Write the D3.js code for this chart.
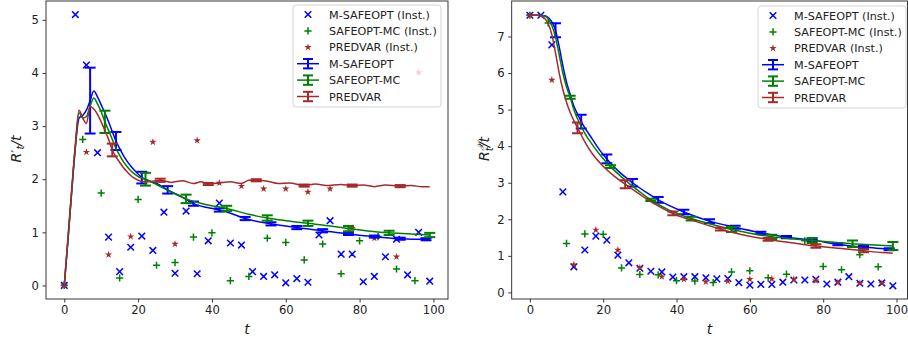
<!DOCTYPE html>
<html>
<head>
<meta charset="utf-8">
<script src="https://cdn.jsdelivr.net/npm/d3@7"></script>
<style>
body { margin: 0; background: #fff; }
svg text { font-family: "DejaVu Sans", sans-serif; fill: #222; }
</style>
</head>
<body>
<svg id="chart" width="908" height="343"></svg>
<script>
// time steps of the instantaneous samples
const tStep3 = [0,3,6,9,12,15,18,21,24,27,30,33,36,39,42,45,48,51,54,57,60,63,66,69,72,75,78,81,84,87,90,93,96,99];
const tStep5 = [0,5,10,15,20,25,30,35,40,45,50,55,60,65,70,75,80,85,90,95];
const tStep6 = [0,6,12,18,24,30,36,42,48,54,60,66,72,78,84,90,96];

// left panel: R'_t / t
const leftInstM = [0,5.1,4.15,2.5,0.91,0.26,0.72,0.93,0.66,1.38,0.23,1.40,0.22,0.84,1.55,0.80,0.76,0.26,0.17,0.20,0.05,0.13,0.06,0.95,1.22,0.59,0.59,0.07,0.17,0.54,0.87,0.20,1.0,0.08];
const leftInstS = [0,2.75,1.74,0.14,1.62,0.38,0.43,0.91,0.99,0.09,0.17,0.89,0.81,0.48,0.78,0.22,0.84,0.92,0.31,0.09];
const leftInstP = [0,2.51,0.58,0.92,2.70,0.78,2.73,1.93,1.87,1.82,1.82,1.76,1.82,1.08,0.89,0.54,4.01];

const leftMeanM_T = [0,1,2,3,4,5,6,7,8,9,10,11,12,13,14,15,16,17,18,19,20,21,25,28,31,35,42,45,49,56,63,70,77,84,91,98,99];
const leftMeanM   = [0,0.85,1.75,2.6,3.15,3.2,3.3,3.48,3.66,3.55,3.4,3.25,3.08,2.9,2.72,2.58,2.45,2.34,2.25,2.17,2.1,2.03,1.92,1.8,1.7,1.54,1.42,1.36,1.26,1.16,1.09,1.03,0.97,0.92,0.88,0.87,0.87];
const leftErrM_T = [7,14,21,28,35,42,49,56,63,70,77,84,91,98];
const leftErrM   = [3.48,2.72,2.03,1.8,1.54,1.42,1.26,1.16,1.09,1.03,0.97,0.92,0.88,0.87];
const leftErrM_H = [0.62,0.17,0.11,0.07,0.04,0.03,0.03,0.03,0.03,0.03,0.02,0.02,0.02,0.02];

const leftMeanS_T = [0,1,2,3,4,5,6,7,8,9,10,11,12,13,14,15,16,17,18,19,20,22,25,28,33,38,44,50,55,60,66,72,77,83,88,94,99];
const leftMeanS   = [0,0.86,1.76,2.62,3.25,3.15,3.18,3.38,3.53,3.42,3.27,3.08,2.92,2.75,2.58,2.45,2.33,2.24,2.16,2.1,2.05,2.0,1.9,1.79,1.63,1.53,1.45,1.34,1.27,1.22,1.17,1.12,1.07,1.02,0.99,0.97,0.95];
const leftErrS_T = [11,22,33,44,55,66,77,88,99];
const leftErrS   = [3.08,2.0,1.63,1.45,1.27,1.17,1.07,0.99,0.95];
const leftErrS_H = [0.21,0.12,0.08,0.05,0.05,0.05,0.05,0.04,0.04];

const leftMeanP_T = [0,1,2,3,4,5,6,7,8,9,10,11,12,13,14,15,16,17,18,19,20,22,24,26,29,32,35,37,39,42,45,48,50,52,55,58,61,65,68,71,75,78,81,84,87,91,94,97,99];
const leftMeanP   = [0,0.9,1.8,2.65,3.3,3.15,3.05,3.37,3.32,3.22,3.08,2.92,2.75,2.55,2.42,2.32,2.22,2.14,2.07,2.02,1.98,1.95,1.96,1.98,1.94,1.97,1.92,1.95,1.91,1.93,1.95,1.92,1.98,1.98,1.96,1.92,1.93,1.88,1.91,1.88,1.9,1.88,1.89,1.86,1.89,1.87,1.88,1.86,1.86];
const leftErrP_T = [13,26,39,52,65,78,91];
const leftErrP   = [2.55,1.98,1.91,1.98,1.88,1.88,1.87];
const leftErrP_H = [0.12,0.03,0.02,0.02,0.02,0.02,0.02];

// right panel: R^X_t / t
const rightInstM = [7.58,7.58,6.77,2.75,0.70,1.16,1.54,1.43,1.02,0.81,0.66,0.58,0.56,0.42,0.43,0.43,0.40,0.37,0.38,0.27,0.20,0.22,0.22,0.28,0.34,0.34,0.36,0.23,0.28,0.43,0.25,0.23,0.26,0.18];
const rightInstS = [7.58,7.37,1.34,1.6,1.59,0.67,0.49,0.48,0.32,0.31,0.27,0.56,0.59,0.40,0.50,1.41,0.71,0.62,1.03,0.70];
const rightInstP = [7.58,5.81,0.76,1.71,1.16,0.67,0.43,0.36,0.29,0.31,0.36,0.37,0.36,0.32,0.27,0.25,0.25];

const rightMeanM_T = [0,2,4,5,6,7,8,9,10,11,12,13,14,15,17,19,21,24,28,32,35,42,49,56,63,70,77,84,91,98,99];
const rightMeanM   = [7.58,7.58,7.57,7.52,7.4,7.17,6.72,6.2,5.75,5.42,5.1,4.88,4.67,4.5,4.2,3.9,3.65,3.33,3.0,2.72,2.53,2.2,1.95,1.78,1.63,1.51,1.43,1.32,1.24,1.18,1.17];
const rightErrM_T = [7,14,21,28,35,42,49,56,63,70,77,84,91,98];
const rightErrM   = [7.17,4.67,3.65,3.0,2.53,2.2,1.95,1.78,1.63,1.51,1.43,1.32,1.24,1.18];
const rightErrM_H = [0.19,0.19,0.12,0.1,0.08,0.06,0.05,0.04,0.03,0.03,0.03,0.03,0.03,0.03];

const rightMeanS_T = [0,2,4,5,6,7,8,9,10,11,12,13,15,17,19,22,26,30,33,38,44,50,55,60,66,72,77,83,88,94,99];
const rightMeanS   = [7.58,7.58,7.56,7.48,7.3,6.98,6.5,6.0,5.62,5.34,5.0,4.75,4.35,4.05,3.78,3.44,3.07,2.75,2.53,2.25,2.02,1.85,1.72,1.62,1.52,1.46,1.42,1.37,1.33,1.3,1.27];
const rightErrS_T = [11,22,33,44,55,66,77,88,99];
const rightErrS   = [5.34,3.44,2.53,2.02,1.72,1.52,1.42,1.33,1.27];
const rightErrS_H = [0.04,0.04,0.03,0.05,0.07,0.06,0.07,0.09,0.11];

const rightMeanP_T = [0,2,3,4,5,6,7,8,9,10,11,12,13,15,17,20,23,26,30,34,39,45,52,58,65,72,78,85,91,96,99];
const rightMeanP   = [7.58,7.58,7.56,7.5,7.35,7.05,6.55,6.0,5.55,5.2,4.92,4.7,4.5,4.12,3.8,3.45,3.18,2.96,2.68,2.42,2.16,1.95,1.73,1.58,1.45,1.35,1.27,1.2,1.14,1.09,1.07];
const rightErrP_T = [13,26,39,52,65,78,91];
const rightErrP   = [4.5,2.96,2.16,1.73,1.45,1.27,1.14];
const rightErrP_H = [0.15,0.11,0.05,0.04,0.04,0.05,0.04];

const xTicks = [0,20,40,60,80,100];
const leftYTicks = [0,1,2,3,4,5];
const rightYTicks = [0,1,2,3,4,5,6,7];
const legendLabels = ["M-SAFEOPT (Inst.)","SAFEOPT-MC (Inst.)","PREDVAR (Inst.)","M-SAFEOPT","SAFEOPT-MC","PREDVAR"];

const BLUE = "#0000ff", GREEN = "#008000", BROWN = "#a52a2a";

const svg = d3.select("#chart");
const zip = (a, b) => a.map((v, i) => [v, b[i]]);

function marker(g, kind, cx, cy, color) {
  if (kind === "x") {
    const r = 3.3;
    g.append("path").attr("d", `M${cx-r},${cy-r}L${cx+r},${cy+r}M${cx-r},${cy+r}L${cx+r},${cy-r}`)
      .attr("stroke", color).attr("stroke-width", 1.5).attr("fill", "none");
  } else if (kind === "+") {
    const r = 3.6;
    g.append("path").attr("d", `M${cx-r},${cy}L${cx+r},${cy}M${cx},${cy-r}L${cx},${cy+r}`)
      .attr("stroke", color).attr("stroke-width", 1.5).attr("fill", "none");
  } else {
    g.append("path").attr("d", d3.symbol(d3.symbolStar, 17)())
      .attr("transform", `translate(${cx},${cy})`).attr("fill", color);
  }
}

function drawPanel(cfg) {
  const x = d3.scaleLinear().domain([-4.95, 103.95]).range([cfg.left, cfg.rightRange]);
  const y = d3.scaleLinear().domain(cfg.yDom).range([cfg.bottom, cfg.top]);
  const g = svg.append("g");
  const clipId = "clip" + cfg.id;
  svg.append("clipPath").attr("id", clipId).append("rect")
    .attr("x", cfg.left).attr("y", cfg.top).attr("width", cfg.right - cfg.left).attr("height", cfg.bottom - cfg.top);
  const plot = g.append("g").attr("clip-path", `url(#${clipId})`);

  // instantaneous scatter
  const sg = plot.append("g");
  tStep3.forEach((t, i) => marker(sg, "x", x(t), y(cfg.instM[i]), BLUE));
  tStep5.forEach((t, i) => marker(sg, "+", x(t), y(cfg.instS[i]), GREEN));
  tStep6.forEach((t, i) => marker(sg, "*", x(t), y(cfg.instP[i]), BROWN));

  // mean curves with error bars
  const line = d3.line().x(d => x(d[0])).y(d => y(d[1])).curve(d3.curveMonotoneX);
  cfg.means.forEach(s => {
    plot.append("path").datum(zip(s.t, s.v)).attr("d", line)
      .attr("fill", "none").attr("stroke", s.color).attr("stroke-width", 1.5);
    const eg = plot.append("g").attr("stroke", s.color).attr("stroke-width", 2);
    s.et.forEach((t, i) => {
      const cx = x(t), hi = y(s.ev[i] + s.eh[i]), lo = y(s.ev[i] - s.eh[i]);
      eg.append("line").attr("x1", cx).attr("x2", cx).attr("y1", hi).attr("y2", lo);
      [hi, lo].forEach(yy => eg.append("line").attr("x1", cx - 5.5).attr("x2", cx + 5.5).attr("y1", yy).attr("y2", yy));
    });
  });

  // axes
  const xa = g.append("g").attr("transform", `translate(0,${cfg.bottom})`)
    .call(d3.axisBottom(x).tickValues(xTicks).tickSize(3.5).tickPadding(3.5));
  const ya = g.append("g").attr("transform", `translate(${cfg.left},0)`)
    .call(d3.axisLeft(y).tickValues(cfg.yTicks).tickSize(3.5).tickPadding(3.5).tickFormat(d3.format("d")));
  [xa, ya].forEach(a => {
    a.select(".domain").remove();
    a.selectAll("line").attr("stroke", "#222").attr("stroke-width", 0.9);
    a.selectAll("text").style("font-size", "11.6px").attr("fill", "#222");
  });
  g.append("rect").attr("x", cfg.left).attr("y", cfg.top)
    .attr("width", cfg.right - cfg.left).attr("height", cfg.bottom - cfg.top)
    .attr("fill", "none").attr("stroke", "#222").attr("stroke-width", 0.9);

  // x label
  g.append("text").attr("x", (cfg.left + cfg.right) / 2).attr("y", 334)
    .attr("text-anchor", "middle").style("font-size", "14px").style("font-style", "italic").text("t");

  // legend
  const lg = g.append("g").attr("transform", `translate(${cfg.legX},${cfg.legY})`);
  lg.append("rect").attr("width", 148).attr("height", 102).attr("rx", 3)
    .attr("fill", "#fff").attr("fill-opacity", 0.8).attr("stroke", "#cfcfcf").attr("stroke-width", 0.9);
  const colors = [BLUE, GREEN, BROWN];
  const kinds = ["x", "+", "*"];
  legendLabels.forEach((lab, i) => {
    const cy = 9.5 + i * 16.4;
    const c = colors[i % 3];
    if (i < 3) {
      marker(lg, kinds[i], 15, cy, c);
    } else {
      lg.append("line").attr("x1", 4).attr("x2", 26).attr("y1", cy).attr("y2", cy)
        .attr("stroke", c).attr("stroke-width", 1.5);
      lg.append("line").attr("x1", 15).attr("x2", 15).attr("y1", cy - 4.7).attr("y2", cy + 4.7)
        .attr("stroke", c).attr("stroke-width", 2);
      [cy - 4.7, cy + 4.7].forEach(yy => lg.append("line").attr("x1", 10).attr("x2", 20)
        .attr("y1", yy).attr("y2", yy).attr("stroke", c).attr("stroke-width", 2));
    }
    lg.append("text").attr("x", 36).attr("y", cy + 4).style("font-size", "11.2px").text(lab);
  });

  return {x, y, g};
}

const L = drawPanel({
  id: "L", left: 46, right: 448, rightRange: 448, top: 1, bottom: 299,
  yDom: [-0.255, 5.355], yTicks: leftYTicks,
  instM: leftInstM, instS: leftInstS, instP: leftInstP,
  means: [
    {t: leftMeanM_T, v: leftMeanM, et: leftErrM_T, ev: leftErrM, eh: leftErrM_H, color: BLUE},
    {t: leftMeanS_T, v: leftMeanS, et: leftErrS_T, ev: leftErrS, eh: leftErrS_H, color: GREEN},
    {t: leftMeanP_T, v: leftMeanP, et: leftErrP_T, ev: leftErrP, eh: leftErrP_H, color: BROWN}
  ],
  legX: 293, legY: 5
});

const R = drawPanel({
  id: "R", left: 511.7, right: 907.5, rightRange: 911, top: 1, bottom: 299,
  yDom: [-0.18, 7.97], yTicks: rightYTicks,
  instM: rightInstM, instS: rightInstS, instP: rightInstP,
  means: [
    {t: rightMeanM_T, v: rightMeanM, et: rightErrM_T, ev: rightErrM, eh: rightErrM_H, color: BLUE},
    {t: rightMeanS_T, v: rightMeanS, et: rightErrS_T, ev: rightErrS, eh: rightErrS_H, color: GREEN},
    {t: rightMeanP_T, v: rightMeanP, et: rightErrP_T, ev: rightErrP, eh: rightErrP_H, color: BROWN}
  ],
  legX: 758, legY: 6
});

// y labels
const yl1 = svg.append("text").attr("transform", "translate(21,149) rotate(-90)")
  .attr("text-anchor", "middle").style("font-size", "14px");
yl1.append("tspan").style("font-style", "italic").text("R");
yl1.append("tspan").text("\u2032");
yl1.append("tspan").attr("dy", 3).style("font-size", "10px").style("font-style", "italic").text("t");
yl1.append("tspan").attr("dy", -3).style("font-style", "italic").text("/t");

const yl2 = svg.append("text").attr("transform", "translate(489,149) rotate(-90)")
  .attr("text-anchor", "middle").style("font-size", "14px");
yl2.append("tspan").style("font-style", "italic").text("R");
yl2.append("tspan").attr("dy", -5).style("font-size", "9.5px").style("font-style", "italic").text("\ud835\udcb3");
yl2.append("tspan").attr("dx", -8).attr("dy", 9).style("font-size", "10px").style("font-style", "italic").text("t");
yl2.append("tspan").attr("dy", -4).style("font-style", "italic").text("/t");
</script>
</body>
</html>
